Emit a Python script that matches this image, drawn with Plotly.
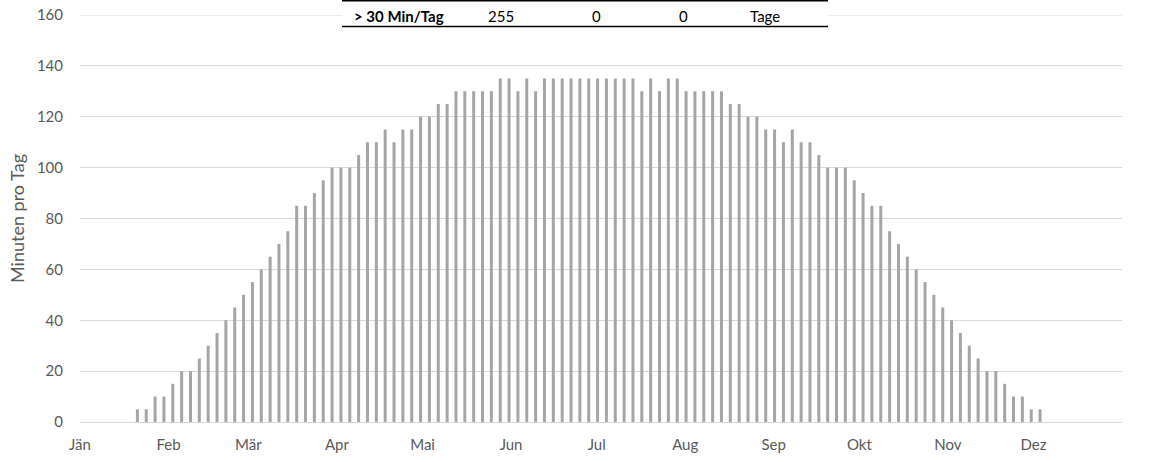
import plotly.graph_objects as go

# Monatsachse (Tag im Jahr, 0 = 1. Jänner)
monate = ["Jän", "Feb", "Mär", "Apr", "Mai", "Jun", "Jul", "Aug", "Sep", "Okt", "Nov", "Dez"]
monatsbeginn = [0, 31, 59, 90, 120, 151, 181, 212, 243, 273, 304, 334]

# Sonnenminuten pro Tag, Messpunkte von Ende Jänner bis Anfang Dezember
minuten = [
    5, 5, 10, 10, 15, 20, 20, 25, 30, 35, 40, 45, 50, 55, 60, 65, 70, 75, 85, 85, 90, 95, 100,
    100, 100, 105, 110, 110, 115, 110, 115, 115, 120, 120, 125, 125, 130, 130, 130, 130, 130,
    135, 135, 130,
    135, 130, 135, 135, 135, 135, 135, 135, 135, 135, 135, 135, 135, 130, 135, 130, 135, 135,
    130, 130, 130, 130,
    130, 125, 125, 120, 120, 115, 115, 110, 115, 110, 110, 105, 100, 100, 100, 95, 90, 85, 85,
    75, 70,
    65, 60, 55, 50, 45, 40, 35, 30, 25, 20, 20, 15, 10, 10, 5, 5,
]
erster_tag = 20.1
letzter_tag = 336.3

# Zusammenfassung oben
tabelle_titel = "> 30 Min/Tag"
tabelle_werte = ["255", "0", "0"]
tabelle_einheit = "Tage"

n = len(minuten)
tage = [erster_tag + i * (letzter_tag - erster_tag) / (n - 1) for i in range(n)]

W, H = 1155, 462
ML, MR, MT, MB = 80, 33, 15, 40
pw = W - ML - MR
ph = H - MT - MB


def px_x(p):
    return (p - ML) / pw


def px_y(p):
    return (H - MB - p) / ph


FONT = "Lato, 'Open Sans', sans-serif"
GRAU = "#595959"

fig = go.Figure(
    go.Bar(
        x=tage,
        y=minuten,
        width=1.05,
        marker=dict(color="#A5A5A5", line=dict(width=0)),
        hoverinfo="x+y",
    )
)

fig.update_layout(
    width=W,
    height=H,
    autosize=False,
    margin=dict(l=ML, r=MR, t=MT, b=MB, pad=0, autoexpand=False),
    paper_bgcolor="white",
    plot_bgcolor="white",
    showlegend=False,
    font=dict(family=FONT, size=15, color=GRAU),
    xaxis=dict(
        range=[0, 365],
        tickmode="array",
        tickvals=monatsbeginn,
        ticktext=monate,
        showgrid=False,
        zeroline=False,
        showline=True,
        linecolor="#D9D9D9",
        linewidth=1,
        ticks="",
        ticklabelstandoff=9,
        automargin=False,
        tickfont=dict(family=FONT, size=15, color=GRAU),
        fixedrange=True,
    ),
    yaxis=dict(
        range=[0, 160],
        tickmode="linear",
        tick0=0,
        dtick=20,
        showgrid=True,
        gridcolor="#D9D9D9",
        gridwidth=1,
        zeroline=False,
        showline=False,
        ticks="",
        ticklabelstandoff=16,
        automargin=False,
        tickfont=dict(family=FONT, size=15, color=GRAU),
        title=dict(text="Minuten pro Tag", font=dict(family=FONT, size=18, color=GRAU), standoff=7),
        fixedrange=True,
    ),
)

# Linie für den obersten Rasterwert (am oberen Rand der Zeichenfläche)
fig.add_shape(type="line", xref="paper", yref="y", x0=0, x1=1, y0=160, y1=160,
              line=dict(color="#D9D9D9", width=1), layer="below")

# Zusammenfassungstabelle über dem Diagramm
x0, x1 = px_x(342), px_x(828)
y_top, y_bot = px_y(0.8), px_y(26.5)
fig.add_shape(type="rect", xref="paper", yref="paper", x0=x0, x1=x1, y0=y_bot, y1=y_top,
              fillcolor="white", line=dict(width=0), layer="above")
fig.add_shape(type="line", xref="paper", yref="paper", x0=x0, x1=x1, y0=y_top, y1=y_top,
              line=dict(color="#000000", width=1.5))
fig.add_shape(type="line", xref="paper", yref="paper", x0=x0, x1=x1, y0=y_bot, y1=y_bot,
              line=dict(color="#000000", width=1.5))

y_text = px_y(15.5)
fig.add_annotation(x=px_x(352), y=y_text, xref="paper", yref="paper", xanchor="left", yanchor="middle",
                   text="<b>" + tabelle_titel + "</b>", showarrow=False,
                   font=dict(family=FONT, size=15, color="#000000"))
for wert, cx in zip(tabelle_werte, [501, 596, 683]):
    fig.add_annotation(x=px_x(cx), y=y_text, xref="paper", yref="paper", xanchor="center", yanchor="middle",
                       text=wert, showarrow=False, font=dict(family=FONT, size=15, color="#000000"))
fig.add_annotation(x=px_x(748), y=y_text, xref="paper", yref="paper", xanchor="left", yanchor="middle",
                   text=tabelle_einheit, showarrow=False, font=dict(family=FONT, size=15, color="#000000"))

fig.write_html("out.html")
